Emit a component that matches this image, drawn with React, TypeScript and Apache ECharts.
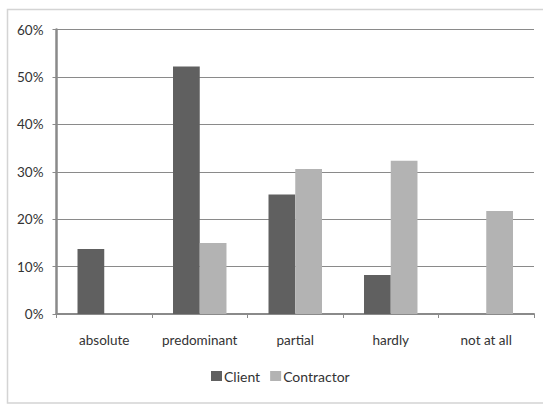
import React, { useEffect, useRef } from "react";
import * as echarts from "echarts";

const categories = ["absolute", "predominant", "partial", "hardly", "not at all"];
const clientValues = [13.7, 52.2, 25.2, 8.2, 0];
const contractorValues = [0, 15.0, 30.6, 32.3, 21.7];
const seriesNames = ["Client", "Contractor"];

export default function App() {
  const ref = useRef<HTMLDivElement>(null);
  useEffect(() => {
    document.body.style.margin = "0";
    if (!ref.current) return;
    const chart = echarts.init(ref.current, null, { renderer: "svg" });
    const font = "Lato";
    chart.setOption({
      animation: false,
      backgroundColor: "#ffffff",
      graphic: [
        {
          type: "rect",
          shape: { x: 7.5, y: 9.5, width: 545, height: 393.5 },
          style: { fill: "none", stroke: "#d4d4d4", lineWidth: 1.5 },
          silent: true,
          z: -1,
        },
      ],
      grid: { left: 56.5, right: 9, top: 29.5, bottom: 91 },
      legend: {
        data: seriesNames,
        top: 364,
        left: 206,
        itemWidth: 11,
        itemHeight: 10,
        itemGap: 10,
        icon: "rect",
        textStyle: { fontFamily: font, fontSize: 14, color: "#333", padding: [0, 0, 0, -3] },
      },
      xAxis: {
        type: "category",
        data: categories,
        axisLine: { lineStyle: { color: "#8a8a8a", width: 2 } },
        axisTick: { show: true, length: 4, lineStyle: { color: "#8a8a8a", width: 1 } },
        axisLabel: { interval: 0, fontFamily: font, fontSize: 13.5, color: "#333", margin: 19 },
      },
      yAxis: {
        type: "value",
        min: 0,
        max: 60,
        interval: 10,
        axisLine: { show: true, lineStyle: { color: "#8a8a8a", width: 2.5 } },
        axisTick: { show: true, length: 4, lineStyle: { color: "#8a8a8a" } },
        splitLine: { lineStyle: { color: "#8a8a8a", width: 1 } },
        axisLabel: { fontFamily: font, fontSize: 13.5, color: "#333", margin: 13, formatter: "{value}%" },
      },
      series: [
        {
          name: seriesNames[0],
          type: "bar",
          data: clientValues,
          itemStyle: { color: "#606060" },
          barGap: "0%",
          barCategoryGap: "44%",
        },
        {
          name: seriesNames[1],
          type: "bar",
          data: contractorValues,
          itemStyle: { color: "#b3b3b3" },
          barGap: "0%",
          barCategoryGap: "44%",
        },
      ],
    });
    return () => chart.dispose();
  }, []);
  return <div ref={ref} style={{ width: 543, height: 405 }} />;
}
